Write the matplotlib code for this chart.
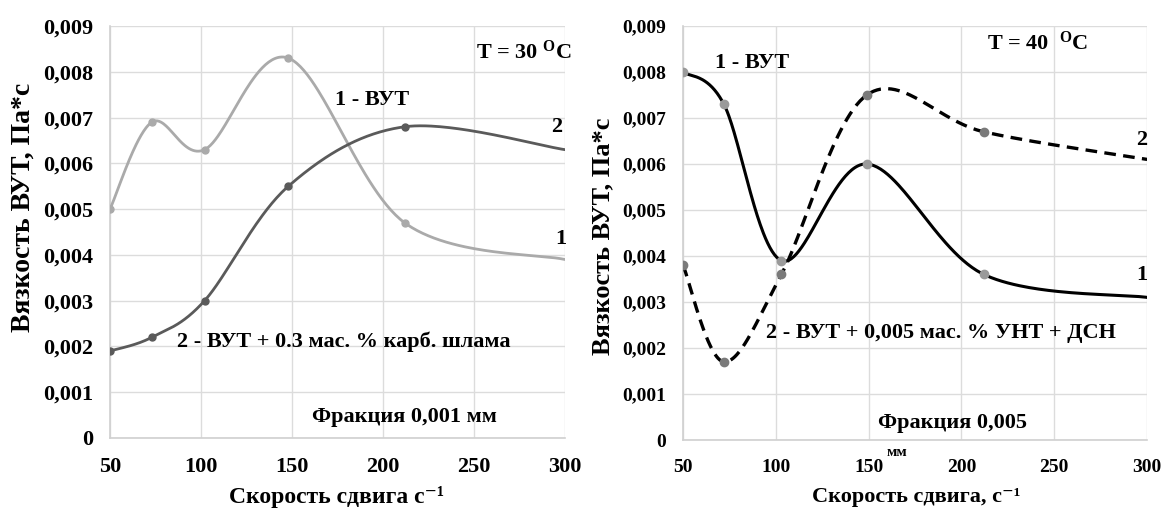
import numpy as np
import matplotlib
matplotlib.use("Agg")
import matplotlib.pyplot as plt

plt.rcParams['font.family'] = ['Liberation Serif', 'DejaVu Serif']
plt.rcParams['font.weight'] = 'bold'
plt.rcParams['mathtext.fontset'] = 'custom'
plt.rcParams['mathtext.rm'] = 'Liberation Serif:bold'
plt.rcParams['mathtext.bf'] = 'Liberation Serif:bold'
plt.rcParams['mathtext.it'] = 'Liberation Serif:bold'

# shear rate, 1/s
shear_30 = [50, 73, 102, 148, 212, 300]
vut_30 = [0.0050, 0.0069, 0.0063, 0.0083, 0.0047, 0.0039]
vut_slime_30 = [0.0019, 0.0022, 0.0030, 0.0055, 0.0068, 0.0063]

shear_40 = [50, 72, 103, 149, 212, 300]
vut_40 = [0.0080, 0.0073, 0.0039, 0.0060, 0.0036, 0.0031]
vut_cnt_40 = [0.0038, 0.0017, 0.0036, 0.0075, 0.0067, 0.0061]

x_ticks = [50, 100, 150, 200, 250, 300]
y_ticks = [0, 0.001, 0.002, 0.003, 0.004, 0.005, 0.006, 0.007, 0.008, 0.009]
y_labels = ['0', '0,001', '0,002', '0,003', '0,004', '0,005', '0,006', '0,007', '0,008', '0,009']


def smooth(xs, ys, n=60):
    # Excel-like smoothed line: Catmull-Rom segments as cubic Bezier
    pts = np.column_stack([xs, ys]).astype(float)
    out = []
    t = np.linspace(0, 1, n)[:, None]
    for i in range(len(pts) - 1):
        p0 = pts[max(i - 1, 0)]
        p1 = pts[i]
        p2 = pts[i + 1]
        p3 = pts[min(i + 2, len(pts) - 1)]
        b1 = p1 + (p2 - p0) / 6
        b2 = p2 - (p3 - p1) / 6
        seg = (1 - t)**3 * p1 + 3 * (1 - t)**2 * t * b1 + 3 * (1 - t) * t**2 * b2 + t**3 * p2
        out.append(seg if i == 0 else seg[1:])
    return np.vstack(out)


def draw_series(ax, xs, ys, color, lw, ls='-', mcolor=None, msize=5):
    curve = smooth(xs, ys)
    ax.plot(curve[:, 0], curve[:, 1], color=color, lw=lw, ls=ls, solid_capstyle='round', zorder=3)
    # last point lies on the axis edge and carries no marker
    ax.plot(xs[:-1], ys[:-1], 'o', color=mcolor or color, ms=msize, mec=mcolor or color, zorder=4)


def style_axes(ax, tick_size):
    ax.set_xlim(50, 300)
    ax.set_ylim(0, 0.009)
    ax.set_xticks(x_ticks)
    ax.set_yticks(y_ticks)
    ax.set_yticklabels(y_labels)
    ax.tick_params(length=0, labelsize=tick_size)
    ax.tick_params(axis='x', pad=14)
    ax.tick_params(axis='y', pad=12)
    ax.grid(True, color='#dcdcdc', lw=1)
    ax.set_axisbelow(True)
    for side in ['top', 'right']:
        ax.spines[side].set_visible(False)
    for side in ['left', 'bottom']:
        ax.spines[side].set_color('#d0d0d0')
        ax.spines[side].set_linewidth(1.2)


fig = plt.figure(figsize=(11.66, 5.13), dpi=100)
ax1 = fig.add_axes([0.0943, 0.1462, 0.3902, 0.803])
ax2 = fig.add_axes([0.5858, 0.1423, 0.398, 0.807])

# T = 30 C
style_axes(ax1, 16)
draw_series(ax1, shear_30, vut_30, '#aaaaaa', 2.0)
draw_series(ax1, shear_30, vut_slime_30, '#5a5a5a', 2.0)
ax1.text(0.805, 0.937, r'T = 30 $^{\mathrm{O}}$C', transform=ax1.transAxes, fontsize=16, va='center')
ax1.text(0.495, 0.820, '1 - ВУТ', transform=ax1.transAxes, fontsize=16, va='center')
ax1.text(0.982, 0.755, '2', transform=ax1.transAxes, fontsize=16, va='center', ha='center')
ax1.text(0.99, 0.483, '1', transform=ax1.transAxes, fontsize=16, va='center', ha='center')
ax1.text(0.147, 0.233, '2 - ВУТ + 0.3 мас. % карб. шлама', transform=ax1.transAxes, fontsize=16, va='center')
ax1.text(0.444, 0.051, 'Фракция 0,001 мм', transform=ax1.transAxes, fontsize=16, va='center')
fig.text(0.289, 0.032, 'Скорость сдвига с⁻¹', fontsize=17, ha='center', va='center')
fig.text(0.020, 0.596, 'Вязкость ВУТ, Па*с', fontsize=20, rotation=90, ha='center', va='center')

# T = 40 C
style_axes(ax2, 14)
draw_series(ax2, shear_40, vut_40, 'black', 2.2, mcolor='#9a9a9a', msize=6)
draw_series(ax2, shear_40, vut_cnt_40, 'black', 2.4, ls=(0, (3.5, 2.2)), mcolor='#7a7a7a', msize=6)
ax2.text(0.655, 0.959, r'T = 40  $^{\mathrm{O}}$C', transform=ax2.transAxes, fontsize=16, va='center')
ax2.text(0.069, 0.911, '1 - ВУТ', transform=ax2.transAxes, fontsize=16, va='center')
ax2.text(0.989, 0.725, '2', transform=ax2.transAxes, fontsize=16, va='center', ha='center')
ax2.text(0.989, 0.399, '1', transform=ax2.transAxes, fontsize=16, va='center', ha='center')
ax2.text(0.179, 0.258, '2 - ВУТ + 0,005 мас. % УНТ + ДСН', transform=ax2.transAxes, fontsize=16, va='center')
ax2.text(0.420, 0.041, 'Фракция 0,005', transform=ax2.transAxes, fontsize=16, va='center')
ax2.text(0.461, -0.029, 'мм', transform=ax2.transAxes, fontsize=11, va='center', ha='center')
fig.text(0.786, 0.032, 'Скорость сдвига, с⁻¹', fontsize=16, ha='center', va='center')
fig.text(0.517, 0.54, 'Вязкость ВУТ, Па*с', fontsize=19, rotation=90, ha='center', va='center')

fig.savefig('out.png', dpi=100, facecolor='white')
